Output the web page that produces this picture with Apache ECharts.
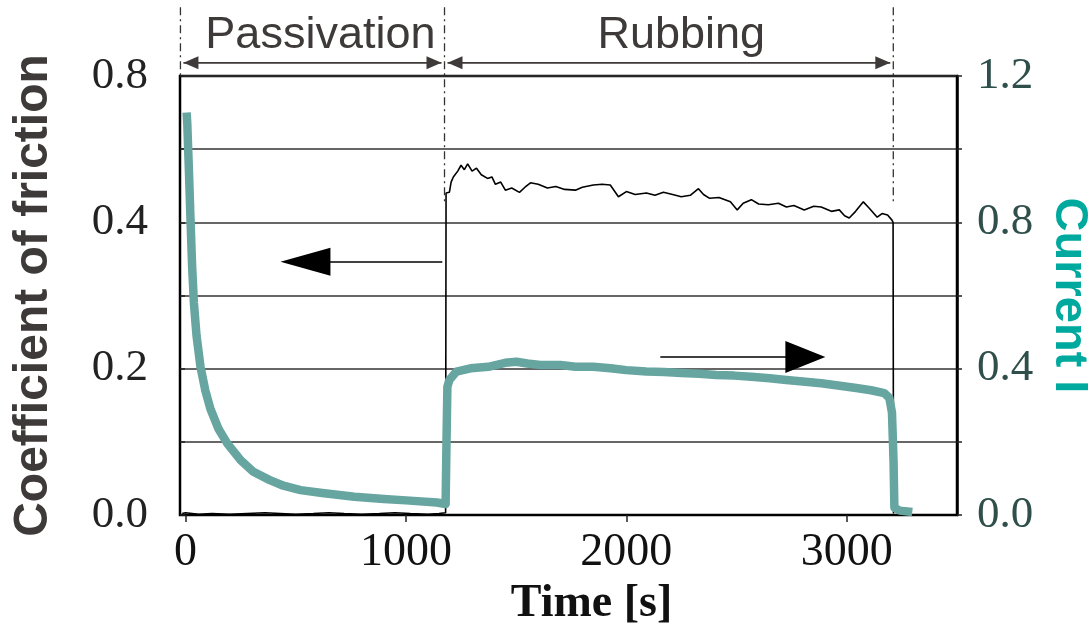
<!DOCTYPE html>
<html>
<head>
<meta charset="utf-8">
<script src="https://cdn.jsdelivr.net/npm/echarts@6/dist/echarts.min.js"></script>
<style>html,body{margin:0;padding:0;background:#fff}#c{width:1089px;height:626px}</style>
</head>
<body>
<div id="c"></div>
<script>
// ---- data ----
const timeTicks = [0, 1000, 2000, 3000];
const leftTickValues = [0, 0.2, 0.4, 0.6];
const leftTickLabels = ['0.0', '0.2', '0.4', '0.8'];
const rightTickValues = [0, 0.4, 0.8, 1.2];
const rightTickLabels = ['0.0', '0.4', '0.8', '1.2'];

const passivationEnd = 1175;
const rubbingEnd = 3211;
const phaseNames = ['Passivation', 'Rubbing'];
const phaseLabelTime = [612, 2249];

// coefficient of friction [time s, value]
const frictionTime = [-15, 0, 60, 120, 200, 280, 360, 430, 500, 580, 650, 720, 800, 880, 950, 1020, 1100, 1150, 1180,
  1182, 1197, 1205, 1215, 1235, 1250, 1265, 1280, 1300, 1320, 1342, 1370, 1390, 1406, 1430, 1451, 1480, 1515, 1540,
  1565, 1600, 1642, 1680, 1720, 1769, 1800, 1850, 1890, 1927, 1964, 2000, 2040, 2091, 2130, 2168, 2210, 2249, 2290,
  2327, 2350, 2376, 2420, 2472, 2503, 2530, 2567, 2600, 2644, 2690, 2726, 2760, 2807, 2850, 2884, 2930, 2966, 2990,
  3011, 3040, 3075, 3100, 3138, 3160, 3185, 3205, 3210, 3212];
const frictionValue = [0.002, 0.003, 0.001, 0.002, 0.001, 0.002, 0.003, 0.002, 0.001, 0.002, 0.003, 0.002, 0.001, 0.002, 0.003, 0.002, 0.001, 0.002, 0.003,
  0.44, 0.441, 0.455, 0.462, 0.470, 0.478, 0.472, 0.480, 0.470, 0.474, 0.465, 0.460, 0.462, 0.452, 0.455, 0.444, 0.447, 0.441, 0.448,
  0.454, 0.452, 0.447, 0.449, 0.445, 0.444, 0.448, 0.451, 0.452, 0.451, 0.435, 0.442, 0.438, 0.440, 0.437, 0.441, 0.438, 0.435, 0.437,
  0.446, 0.438, 0.433, 0.434, 0.428, 0.417, 0.426, 0.431, 0.425, 0.424, 0.426, 0.421, 0.423, 0.417, 0.422, 0.421, 0.415, 0.417, 0.409,
  0.406, 0.415, 0.428, 0.420, 0.407, 0.412, 0.410, 0.403, 0.400, 0.002];

// current I [time s, value]
const currentTime = [5, 8, 15, 22, 30, 38, 50, 68, 90, 113, 150, 190, 250, 308, 380, 444, 522, 620, 766, 900, 1000, 1140, 1180,
  1184, 1188, 1197, 1229, 1293, 1374, 1450, 1501, 1550, 1610, 1700, 1769, 1850, 1928, 2000, 2091, 2170, 2250, 2330, 2408,
  2490, 2567, 2650, 2726, 2800, 2884, 2960, 3043, 3110, 3170, 3193, 3205, 3212, 3216, 3240, 3297];
const currentValue = [1.10, 1.07, 0.95, 0.82, 0.68, 0.58, 0.49, 0.405, 0.34, 0.29, 0.235, 0.195, 0.15, 0.118, 0.096, 0.08, 0.068, 0.06, 0.05, 0.044, 0.04, 0.034, 0.03,
  0.2, 0.35, 0.369, 0.392, 0.401, 0.405, 0.416, 0.419, 0.414, 0.41, 0.41, 0.405, 0.405, 0.401, 0.396, 0.392, 0.391, 0.388, 0.386, 0.383,
  0.381, 0.378, 0.374, 0.369, 0.365, 0.36, 0.354, 0.347, 0.341, 0.333, 0.32, 0.28, 0.15, 0.02, 0.012, 0.008];

// ---- chart ----
const frictionData = frictionTime.map((t, i) => [t, frictionValue[i]]);
const currentData = currentTime.map((t, i) => [t, currentValue[i]]);

const serif = '"Liberation Serif", "Times New Roman", serif';
const sans = '"Liberation Sans", Arial, sans-serif';
const ink = '#3e3a39';

const chart = echarts.init(document.getElementById('c'), null, { renderer: 'canvas' });
chart.setOption({
  animation: false,
  backgroundColor: '#fff',
  grid: { left: 180, right: 132, top: 76, bottom: 111, show: true, borderColor: '#000', borderWidth: 2.5, outerBoundsMode: 'none' },
  xAxis: {
    type: 'value', min: -25, max: 3500,
    name: 'Time [s]', nameLocation: 'middle', nameGap: 66,
    nameTextStyle: { fontFamily: serif, fontWeight: 'bold', fontSize: 46, color: '#111', padding: [0, 0, 0, 46] },
    axisLine: { show: true, onZero: false, lineStyle: { color: '#000', width: 2 } },
    axisTick: { show: true, inside: false, length: 7, customValues: timeTicks, lineStyle: { color: '#222', width: 1.5 } },
    axisLabel: { customValues: timeTicks, fontFamily: serif, fontSize: 46, color: '#111', margin: 15, formatter: v => String(v) },
    splitLine: { show: false }
  },
  yAxis: [{
    type: 'value', min: 0, max: 0.6, interval: 0.1, position: 'left',
    name: 'Coefficient of friction', nameLocation: 'middle', nameRotate: 90, nameGap: 122,
    nameTextStyle: { fontFamily: sans, fontWeight: 'bold', fontSize: 48, color: ink },
    axisLine: { show: true, onZero: false, lineStyle: { color: '#000', width: 2 } },
    axisTick: { show: true, inside: true, length: 5, lineStyle: { color: '#222', width: 1.5 } },
    axisLabel: {
      customValues: leftTickValues, fontFamily: serif, fontSize: 45, color: '#222', margin: 32,
      formatter: v => leftTickLabels[leftTickValues.findIndex(x => Math.abs(x - v) < 1e-6)]
    },
    splitLine: { show: true, lineStyle: { color: '#333', width: 1.5 } }
  }, {
    type: 'value', min: 0, max: 1.2, interval: 0.2, position: 'right',
    name: 'Current I', nameLocation: 'middle', nameRotate: -90, nameGap: 88,
    nameTextStyle: { fontFamily: sans, fontWeight: 'bold', fontSize: 47, color: '#00a99d' },
    axisLine: { show: true, onZero: false, lineStyle: { color: '#000', width: 2.5 } },
    axisTick: { show: true, inside: false, length: 5, lineStyle: { color: '#222', width: 1.5 } },
    axisLabel: {
      customValues: rightTickValues, fontFamily: serif, fontSize: 45, color: '#2f4f4b', margin: 20,
      formatter: v => rightTickLabels[rightTickValues.findIndex(x => Math.abs(x - v) < 1e-6)]
    },
    splitLine: { show: false }
  }],
  series: [{
    name: 'Coefficient of friction', type: 'line', yAxisIndex: 0, data: frictionData,
    showSymbol: false, z: 3,
    lineStyle: { color: '#000', width: 1.6 },
    markLine: {
      silent: true, animation: false, precision: 4, label: { show: false },
      data: [
        [{ coord: [passivationEnd - 10, 0.346], symbol: 'none', lineStyle: { color: '#000', width: 1.5, type: 'solid' } },
         { coord: [544, 0.346], symbol: 'triangle', symbolSize: [28, 50] }],
        [{ coord: [2154, 0.216], symbol: 'none', lineStyle: { color: '#000', width: 1.5, type: 'solid' } },
         { coord: [2812, 0.216], symbol: 'triangle', symbolSize: [32, 40] }]
      ]
    }
  }, {
    name: 'Current I', type: 'line', yAxisIndex: 1, data: currentData,
    showSymbol: false, z: 4,
    lineStyle: { color: '#66a5a0', width: 8.5, cap: 'butt', join: 'round' }
  }]
});

// annotations above the plot (phase boundaries and spans), placed through the axes
const px = (t, v) => chart.convertToPixel({ xAxisIndex: 0, yAxisIndex: 0 }, [t, v]);
const g = [];
function dashLine(t, vTop, vBot) {
  const a = px(t, vTop), b = px(t, vBot);
  g.push({ type: 'line', shape: { x1: a[0], y1: a[1], x2: b[0], y2: b[1] }, z: 10,
    style: { stroke: '#333', lineWidth: 1.3, lineDash: [8, 4, 2, 4] } });
}
function head(x, y, dir) {
  const L = 15, W = 6.5;
  g.push({ type: 'polygon', z: 11, shape: { points: [[x, y], [x - dir * L, y - W], [x - dir * L, y + W]] }, style: { fill: ink } });
}
function span(t1, t2, v) {
  const a = px(t1, v), b = px(t2, v);
  const x1 = a[0] + 3, x2 = b[0] - 3;
  g.push({ type: 'line', z: 10, shape: { x1: x1, y1: a[1], x2: x2, y2: b[1] }, style: { stroke: ink, lineWidth: 1.6 } });
  head(x1, a[1], -1); head(x2, b[1], 1);
}
dashLine(-23, 0.694, 0.6);
dashLine(passivationEnd, 0.694, 0.425);
dashLine(rubbingEnd, 0.694, 0.425);
span(-23, passivationEnd, 0.618);
span(passivationEnd, rubbingEnd, 0.618);
phaseNames.forEach((name, i) => {
  const p = px(phaseLabelTime[i], 0.655);
  g.push({ type: 'text', z: 12, x: p[0], y: p[1],
    style: { text: name, fontFamily: sans, fontSize: 45, fill: ink, align: 'center', verticalAlign: 'middle' } });
});
chart.setOption({ graphic: g });
</script>
</body>
</html>
